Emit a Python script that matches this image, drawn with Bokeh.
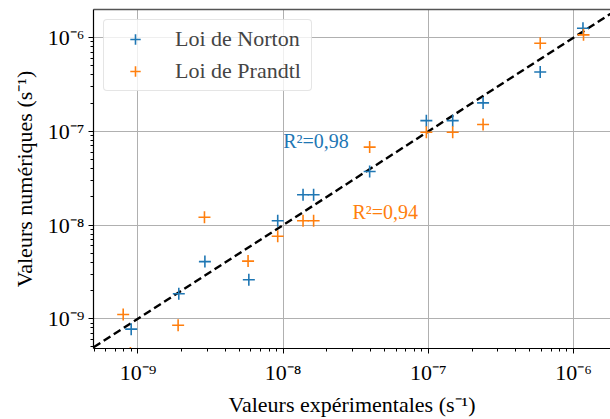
from bokeh.plotting import figure
from bokeh.models import LogAxis, Legend, LegendItem, ColumnDataSource, FixedTicker, CustomJSTickFormatter, Range1d
from bokeh.core.properties import value
from bokeh.embed import file_html
from bokeh.resources import INLINE

# Data (s^-1)
norton_exp = [8.98e-10, 1.91e-9, 2.89e-9, 5.80e-9, 9.17e-9, 1.37e-8, 1.62e-8, 3.94e-8,
              9.68e-8, 1.47e-7, 2.38e-7, 5.89e-7, 1.16e-6]
norton_num = [7.74e-10, 1.85e-9, 4.07e-9, 2.61e-9, 1.11e-8, 2.10e-8, 2.10e-8, 3.72e-8,
              1.30e-7, 1.30e-7, 2.01e-7, 4.29e-7, 1.26e-6]
prandtl_exp = [7.91e-10, 8.87e-10, 1.89e-9, 2.87e-9, 5.73e-9, 9.17e-9, 1.37e-8, 1.62e-8,
               3.94e-8, 9.68e-8, 1.47e-7, 2.38e-7, 5.89e-7, 1.17e-6]
prandtl_num = [1.11e-9, 4.3e-10, 8.53e-10, 1.21e-8, 4.12e-9, 7.59e-9, 1.11e-8, 1.11e-8,
               6.78e-8, 9.77e-8, 9.77e-8, 1.18e-7, 8.71e-7, 1.07e-6]
ref_line = [1e-10, 1e-5]
tick_values = [1e-9, 1e-8, 1e-7, 1e-6]
r2_labels = ["R²=0,98", "R²=0,94"]
r2_x = [1.0e-8, 3.0e-8]
r2_y = [7.9e-8, 1.36e-8]

BLUE = "#1f77b4"
ORANGE = "#ff7f0e"
FONT = "Liberation Serif"

p = figure(width=610, height=419, x_axis_type="log", y_axis_type="log",
           x_range=Range1d(4.94e-10, 1.795e-6), y_range=Range1d(4.81e-10, 1.995e-6),
           output_backend="svg", toolbar_location=None,
           min_border_left=93, min_border_right=0, min_border_top=9, min_border_bottom=69)
p.outline_line_color = None
p.background_fill_color = "white"
p.border_fill_color = "white"

fmt = CustomJSTickFormatter(code="""
const sup = {'-':'\u207b','0':'\u2070','1':'\u00b9','2':'\u00b2','3':'\u00b3','4':'\u2074','5':'\u2075','6':'\u2076','7':'\u2077','8':'\u2078','9':'\u2079'};
const e = Math.round(Math.log10(tick));
return '10' + String(e).split('').map(c => sup[c]).join('');
""")

for ax in (p.xaxis[0], p.yaxis[0]):
    ax.ticker = FixedTicker(ticks=tick_values,
                            minor_ticks=[m * 10.0 ** e for e in range(-10, -5) for m in range(2, 10)])
    ax.formatter = fmt
    ax.major_label_text_font = FONT
    ax.major_label_text_font_size = "22px"
    ax.major_label_text_color = "black"
    ax.axis_label_text_font = FONT
    ax.axis_label_text_font_size = "22px"
    ax.axis_label_text_font_style = "normal"
    ax.axis_label_text_color = "black"
    ax.axis_line_color = "black"
    ax.axis_line_width = 1.2
    ax.major_tick_out = 5
    ax.major_tick_in = 0
    ax.minor_tick_out = 3
    ax.minor_tick_in = 0
    ax.major_tick_line_color = "black"
    ax.minor_tick_line_color = "black"

p.xaxis.axis_label = "Valeurs expérimentales (s⁻¹)"
p.yaxis.axis_label = "Valeurs numériques (s⁻¹)"
p.xaxis.major_label_standoff = 6
p.yaxis.major_label_standoff = 4
p.xaxis.axis_label_standoff = 4
p.yaxis.axis_label_standoff = 8

top = LogAxis(major_tick_line_color=None, minor_tick_line_color=None,
              major_label_text_font_size="0px", axis_line_color="#555555", axis_line_width=1.6,
              major_label_standoff=0)
top.ticker = FixedTicker(ticks=[])
p.add_layout(top, "above")

p.grid.grid_line_color = "#b0b0b0"
p.grid.grid_line_width = 1
p.xgrid.ticker = FixedTicker(ticks=tick_values)
p.ygrid.ticker = FixedTicker(ticks=tick_values)

p.line(ref_line, ref_line, line_color="black", line_dash="8 4", line_width=2.4)

rn = p.scatter(norton_exp, norton_num, marker="cross", size=12, line_color=BLUE, line_width=1.6)
rp = p.scatter(prandtl_exp, prandtl_num, marker="cross", size=12, line_color=ORANGE, line_width=1.6)

src = ColumnDataSource(dict(x=r2_x, y=r2_y, t=r2_labels, c=[BLUE, ORANGE]))
p.text(x="x", y="y", text="t", text_color="c", source=src, text_font=value(FONT),
       text_font_size="20px", text_align="left", text_baseline="middle")

legend = Legend(items=[LegendItem(label="Loi de Norton", renderers=[rn]),
                       LegendItem(label="Loi de Prandtl", renderers=[rp])],
                location="top_left", margin=10, padding=6, spacing=6,
                glyph_width=50, glyph_height=26, label_standoff=15, label_width=130,
                label_text_font=FONT, label_text_font_size="22px",
                border_line_color="#cccccc", border_line_width=1,
                background_fill_color="white", background_fill_alpha=0.8)
try:
    legend.border_radius = 4
except Exception:
    pass
p.add_layout(legend)

open("out.html", "w").write(file_html(p, INLINE))
